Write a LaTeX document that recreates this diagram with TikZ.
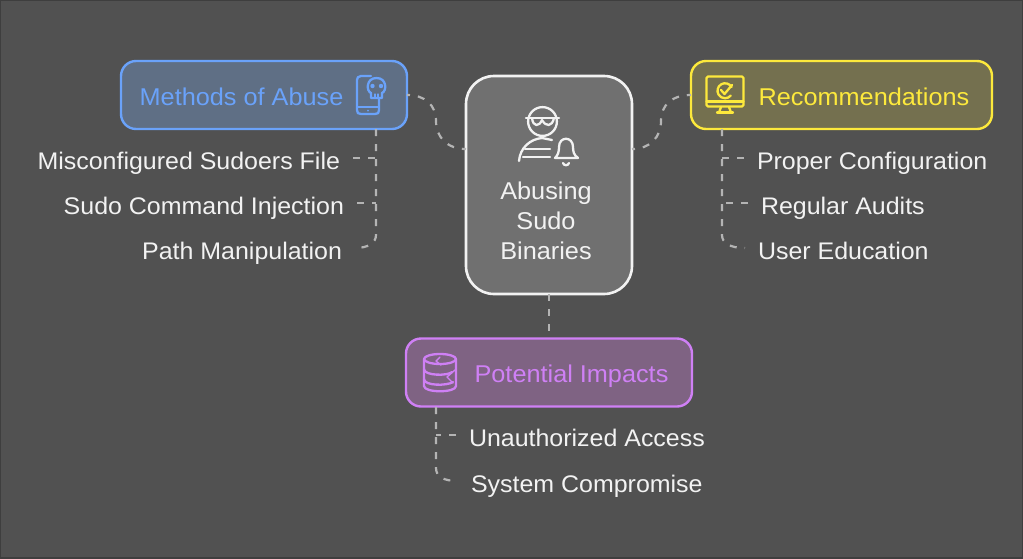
\documentclass[tikz,border=0pt]{standalone}
\usepackage{fontspec}
\setmainfont[FakeStretch=1.04]{Liberation Sans}
\usetikzlibrary{positioning}

\definecolor{backcol}{HTML}{515151}
\definecolor{edgecol}{HTML}{3E3E3E}
\definecolor{linkcol}{HTML}{B4B4B4}
\definecolor{labelcol}{HTML}{F2F2F2}
\definecolor{rootfill}{HTML}{707070}
\definecolor{bluecol}{HTML}{6AA2FA}
\definecolor{bluefill}{HTML}{5F6F85}
\definecolor{yellowcol}{HTML}{FDE93C}
\definecolor{yellowfill}{HTML}{74704F}
\definecolor{purplecol}{HTML}{CF80F5}
\definecolor{purplefill}{HTML}{7F6383}

\tikzset{
	headbox/.style={draw,line width=2.4,rounded corners=15,inner sep=0,outer sep=0,minimum width=#1,minimum height=68},
	rootbox/.style={draw=labelcol,fill=rootfill,line width=2.6,rounded corners=28,inner sep=0,outer sep=0,minimum width=166,minimum height=218},
	headlabel/.style={font=\fontsize{24.3}{30}\selectfont,inner sep=0},
	rootlabel/.style={font=\fontsize{24.3}{30}\selectfont,text=labelcol,align=center,inner sep=0},
	itemlabel/.style={font=\fontsize{24}{30}\selectfont,text=labelcol,text height=22,text depth=0,inner ysep=0,inner xsep=13,outer sep=0},
	link/.style={draw=linkcol,line width=2.2,dash pattern=on 7 off 8},
	icon/.style={line width=2.3,line cap=round,line join=round}
}

\begin{document}
\begin{tikzpicture}[x=1pt,y=-1pt]
	\useasboundingbox (0,0) rectangle (1023,558);
	\fill[backcol] (0,0) rectangle (1023,558);
	\draw[edgecol,line width=2] (0,0) rectangle (1023,558);

	\node[rootbox] (root) at (549,185) {};
	\node[headbox=286,draw=bluecol,fill=bluefill] (abuse) at (264,95) {};
	\node[headbox=301,draw=yellowcol,fill=yellowfill] (advice) at (841.5,95) {};
	\node[headbox=286,draw=purplecol,fill=purplefill] (impacts) at (549,372.5) {};

	\node[rootlabel] (rootname) at (546,221) {Abusing\\Sudo\\Binaries};
	\node[headlabel,text=bluecol] (abusename) at (241.5,97) {Methods of Abuse};
	\node[headlabel,text=yellowcol] (advicename) at (864,97) {Recommendations};
	\node[headlabel,text=purplecol] (impactsname) at (571.5,376) {Potential Impacts};

	\node[itemlabel,anchor=east] (sudoers) at (353,158) {Misconfigured Sudoers File};
	\node[itemlabel,anchor=east] (injection) at (357,203) {Sudo Command Injection};
	\node[itemlabel,anchor=east] (manipulation) at (355,248) {Path Manipulation};
	\node[itemlabel,anchor=west] (config) at (744,158) {Proper Configuration};
	\node[itemlabel,anchor=west] (audits) at (748,203) {Regular Audits};
	\node[itemlabel,anchor=west] (education) at (745,248) {User Education};
	\node[itemlabel,anchor=west] (access) at (456,435) {Unauthorized Access};
	\node[itemlabel,anchor=west] (compromise) at (458,481) {System Compromise};

	\coordinate (rootleft) at (466,149);
	\coordinate (rootright) at (632,149);
	\coordinate (abusestem) at (376,129);
	\coordinate (advicestem) at (722,129);
	\coordinate (impactsstem) at (436,407);

	\draw[link,dash phase=4] (abuse.east) .. controls (425,95) and (436,105) .. (436,121) .. controls (436,137) and (447,149) .. (rootleft);
	\draw[link,dash phase=4] (rootright) .. controls (650,149) and (661,137) .. (661,121) .. controls (661,105) and (672,95) .. (advice.west);
	\draw[link] (root.south) -- (impacts.north);

	\draw[link] (abusestem) -- (376,235) .. controls (376,243) and (368,248) .. (manipulation.east);
	\draw[link] (sudoers.east) -- (376,158);
	\draw[link] (injection.east) -- (376,203);

	\draw[link] (advicestem) -- (722,235) .. controls (722,243) and (730,248) .. (education.west);
	\draw[link] (config.west) -- (722,158);
	\draw[link] (audits.west) -- (722,203);

	\draw[link] (impactsstem) -- (436,468) .. controls (436,477) and (444,481) .. (compromise.west);
	\draw[link] (access.west) -- (436,435);

	% person with bell
	\draw[icon,labelcol] (542.5,121.5) circle (14.4);
	\draw[icon,labelcol] (526,118) -- (559,118);
	\draw[icon,labelcol] (532,118) .. controls (533,127) and (539,127) .. (542,120) .. controls (546,127) and (552,127) .. (554,118);
	\draw[icon,labelcol] (519,161) .. controls (520,148) and (530,139) .. (542,138) -- (552,140);
	\draw[icon,labelcol] (525,149) -- (550,149);
	\draw[icon,labelcol] (523,157) -- (550,157);
	\draw[icon,labelcol] (555,158) .. controls (558,155) and (559,152) .. (559,147) .. controls (559,136) and (573,136) .. (573,147) .. controls (573,152) and (574,155) .. (578,158) -- cycle;
	\draw[icon,labelcol] (563,163) .. controls (564,166) and (568,166) .. (569,163);

	% phone with skull
	\draw[icon,bluecol] (371,76) -- (361,76) .. controls (358,76) and (357,78) .. (357,80) -- (357,110) .. controls (357,113) and (358,114) .. (361,114) -- (375,114) .. controls (378,114) and (379,113) .. (379,110) -- (379,98);
	\draw[icon,bluecol] (357,107) -- (379,107);
	\fill[bluecol] (368,110.5) circle (1);
	\draw[icon,bluecol] (371,98) -- (371,93) .. controls (366,91) and (366,78) .. (376.5,78) .. controls (387,78) and (387,91) .. (382,93) -- (382,98) -- cycle;
	\draw[icon,bluecol,line width=1.2] (375,94) -- (375,98) (378,94) -- (378,98);
	\fill[bluecol] (372.5,86) circle (2.2);
	\fill[bluecol] (381,86) circle (2.2);

	% monitor with check
	\draw[icon,yellowcol,rounded corners=1.5] (706.5,76.5) rectangle (743.5,106.5);
	\draw[icon,yellowcol] (706.5,101.5) -- (743.5,101.5);
	\draw[icon,yellowcol] (721,107) -- (719,112.5) (729,107) -- (731,112.5);
	\draw[icon,yellowcol] (717,112.5) -- (733,112.5);
	\draw[icon,yellowcol] (731.5,87) arc (-30:-320:7.5);
	\draw[icon,yellowcol] (721,90) -- (724.5,94) -- (732,85);

	% cracked database
	\draw[icon,purplecol] (440,359) ellipse (16 and 5);
	\draw[icon,purplecol] (424,359) -- (424,386) .. controls (424,393) and (456,393) .. (456,386) -- (456,359);
	\draw[icon,purplecol] (424,369) .. controls (424,376) and (448,376) .. (452,372);
	\draw[icon,purplecol] (424,379) .. controls (424,386) and (447,386) .. (453,382);
	\draw[icon,purplecol,line width=1.4] (440,357) -- (436,361) -- (441,365);
	\draw[icon,purplecol,line width=1.4] (455,370) -- (447,377) -- (453,383);
\end{tikzpicture}
\end{document}
